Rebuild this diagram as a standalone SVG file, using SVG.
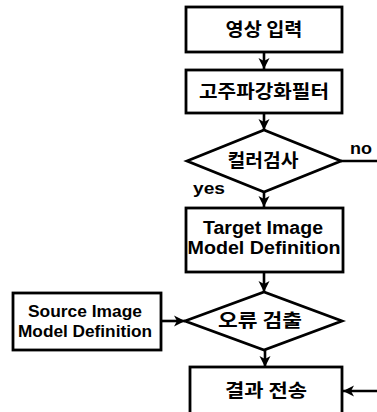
<svg xmlns="http://www.w3.org/2000/svg" width="377" height="412" viewBox="0 0 377 412">
  <style>
    .box { fill: #fff; stroke: #000; stroke-width: 2.8; }
    .edge { fill: none; stroke: #000; stroke-width: 2.6; }
    .ko { font-family: "Noto Sans CJK KR", "Liberation Sans", sans-serif; font-weight: bold; font-size: 18.5px; fill: #000; text-anchor: middle; }
    .en { font-family: "Liberation Sans", Arial, sans-serif; font-weight: bold; fill: #000; text-anchor: middle; }
  </style>
  <defs>
    <marker id="arrow" markerUnits="userSpaceOnUse" markerWidth="12" markerHeight="12" refX="11" refY="6" orient="auto">
      <path d="M0,0.5 L11,6 L0,11.5 L3,6 z" fill="#000"/>
    </marker>
  </defs>
  <rect width="377" height="412" fill="#fff"/>

  <g id="connectors">
    <line class="edge" x1="264" y1="52" x2="264" y2="69" marker-end="url(#arrow)"/>
    <line class="edge" x1="264" y1="113" x2="264" y2="130" marker-end="url(#arrow)"/>
    <line class="edge" x1="264" y1="192" x2="264" y2="207" marker-end="url(#arrow)"/>
    <line class="edge" x1="341" y1="161" x2="377" y2="161"/>
    <line class="edge" x1="264" y1="272" x2="264" y2="292" marker-end="url(#arrow)"/>
    <line class="edge" x1="161" y1="321" x2="185" y2="321" marker-end="url(#arrow)"/>
    <line class="edge" x1="265" y1="350" x2="265" y2="367" marker-end="url(#arrow)"/>
    <line class="edge" x1="377" y1="391" x2="343" y2="391" marker-end="url(#arrow)"/>
    <text class="en" x="361" y="154" font-size="17" textLength="22" lengthAdjust="spacingAndGlyphs">no</text>
    <text class="en" x="209" y="194" font-size="17" textLength="32" lengthAdjust="spacingAndGlyphs">yes</text>
  </g>

  <g id="image-input">
    <rect class="box" x="186" y="7" width="156" height="45"/>
    <text class="ko" x="264" y="36" textLength="77" lengthAdjust="spacingAndGlyphs">영상 입력</text>
  </g>

  <g id="high-pass-filter">
    <rect class="box" x="186" y="70" width="156" height="43"/>
    <text class="ko" x="264" y="98" textLength="130" lengthAdjust="spacingAndGlyphs">고주파강화필터</text>
  </g>

  <g id="color-check">
    <polygon class="box" points="187,161 264,130 341,161 264,192"/>
    <text class="ko" x="263" y="167" textLength="71" lengthAdjust="spacingAndGlyphs">컬러검사</text>
  </g>

  <g id="target-model">
    <rect class="box" x="186" y="208" width="157" height="64"/>
    <text class="en" x="263" y="234" font-size="18" textLength="120" lengthAdjust="spacingAndGlyphs">Target Image</text>
    <text class="en" x="264" y="254" font-size="18" textLength="153" lengthAdjust="spacingAndGlyphs">Model Definition</text>
  </g>

  <g id="source-model">
    <rect class="box" x="13" y="293" width="148" height="57"/>
    <text class="en" x="85" y="317" font-size="16" textLength="114" lengthAdjust="spacingAndGlyphs">Source Image</text>
    <text class="en" x="85" y="337" font-size="16" textLength="134" lengthAdjust="spacingAndGlyphs">Model Definition</text>
  </g>

  <g id="error-detect">
    <polygon class="box" points="185,321 264,292 342,321 264,350"/>
    <text class="ko" x="260" y="327" textLength="84" lengthAdjust="spacingAndGlyphs">오류 검출</text>
  </g>

  <g id="send-result">
    <rect class="box" x="190" y="367" width="152" height="50"/>
    <text class="ko" x="266" y="397" textLength="82" lengthAdjust="spacingAndGlyphs">결과 전송</text>
  </g>
</svg>
